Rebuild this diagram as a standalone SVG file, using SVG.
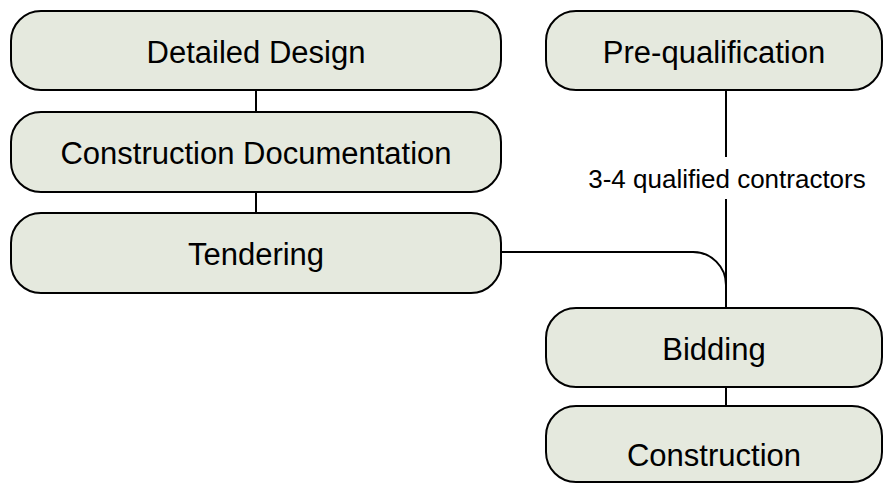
<svg xmlns="http://www.w3.org/2000/svg" width="884" height="483" viewBox="0 0 884 483">
<style>
.node{fill:#e5e9de;stroke:#000;stroke-width:2}
.t{font-family:"Liberation Sans",Arial,sans-serif;font-size:31px;text-anchor:middle;fill:#000}
.lbl{font-family:"Liberation Sans",Arial,sans-serif;font-size:26px;text-anchor:middle;fill:#000}
.c{fill:none;stroke:#000;stroke-width:2}
</style>
<rect width="884" height="483" fill="#fff"/>
<g id="connectors">
<path class="c" d="M256,90 V112"/>
<path class="c" d="M256,192 V213"/>
<path class="c" d="M726,90 V157"/>
<path class="c" d="M726,199 V308"/>
<path class="c" d="M501,252 H693 A33,33 0 0 1 726,285"/>
<path class="c" d="M726,387 V406"/>
<text class="lbl" x="727" y="188">3-4 qualified contractors</text>
</g>
<g id="detailed-design"><rect class="node" x="11" y="11" width="490" height="79" rx="30"/><text class="t" x="256" y="63">Detailed Design</text></g>
<g id="construction-documentation"><rect class="node" x="11" y="112" width="490" height="80" rx="30"/><text class="t" x="256" y="164">Construction Documentation</text></g>
<g id="tendering"><rect class="node" x="11" y="213" width="490" height="80" rx="30"/><text class="t" x="256" y="265">Tendering</text></g>
<g id="pre-qualification"><rect class="node" x="546" y="11" width="336" height="79" rx="30"/><text class="t" x="714" y="63">Pre-qualification</text></g>
<g id="bidding"><rect class="node" x="546" y="308" width="336" height="79" rx="30"/><text class="t" x="714" y="360">Bidding</text></g>
<g id="construction"><rect class="node" x="546" y="406" width="336" height="76" rx="30"/><text class="t" x="714" y="466">Construction</text></g>
</svg>
